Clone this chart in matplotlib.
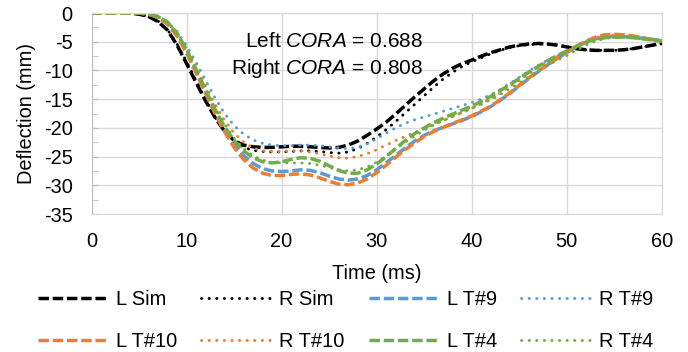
import numpy as np
import matplotlib
matplotlib.use("Agg")
import matplotlib.pyplot as plt
from matplotlib.ticker import MultipleLocator

plt.rcParams['font.family'] = ['Liberation Sans', 'DejaVu Sans']
plt.rcParams['mathtext.fontset'] = 'custom'
plt.rcParams['mathtext.it'] = 'Liberation Sans:italic'
plt.rcParams['mathtext.rm'] = 'Liberation Sans'
plt.rcParams['axes.unicode_minus'] = False

# time (ms), 1 ms steps
time_ms = np.arange(0, 61)

l_sim = [0, 0, 0, 0, 0, -0.2, -0.6, -1.5, -3.0, -5.6, -8.8, -12.1, -15.3, -18.2, -20.6, -22.2,
         -23.0, -23.3, -23.4, -23.4, -23.3, -23.2, -23.2, -23.3, -23.4, -23.5, -23.4, -23.0, -22.3, -21.3,
         -20.2, -19.0, -17.6, -16.1, -14.6, -13.2, -11.8, -10.6, -9.6, -8.8, -8.2, -7.5, -6.9, -6.4,
         -5.9, -5.6, -5.4, -5.3, -5.4, -5.6, -5.9, -6.2, -6.4, -6.5, -6.5, -6.5, -6.4, -6.2, -5.9, -5.6, -5.3]
r_sim = [0, 0, 0, 0, 0, -0.2, -0.6, -1.4, -2.9, -5.4, -8.5, -11.8, -15.1, -18.1, -20.7, -22.4,
         -23.4, -23.9, -24.1, -24.2, -24.2, -24.1, -24.0, -24.0, -24.1, -24.3, -24.4, -24.2, -23.6, -22.7,
         -21.6, -20.3, -18.9, -17.4, -15.9, -14.4, -12.9, -11.5, -10.3, -9.3, -8.5, -7.8, -7.1, -6.5,
         -6.0, -5.7, -5.5, -5.4, -5.4, -5.6, -5.9, -6.2, -6.4, -6.5, -6.5, -6.5, -6.4, -6.2, -5.9, -5.6, -5.3]
l_t9 = [0, 0, 0, 0, 0, 0, -0.2, -0.7, -1.8, -3.8, -6.8, -10.2, -13.8, -17.2, -20.3, -22.8,
        -24.8, -26.2, -27.1, -27.5, -27.6, -27.5, -27.3, -27.4, -27.8, -28.4, -28.9, -29.1, -28.9, -28.3,
        -27.3, -26.1, -24.8, -23.5, -22.3, -21.3, -20.5, -19.9, -19.3, -18.7, -18.0, -17.2, -16.3, -15.2,
        -14.0, -12.7, -11.4, -10.2, -9.0, -7.9, -6.9, -5.9, -5.1, -4.5, -4.2, -4.1, -4.1, -4.2, -4.4, -4.6, -4.8]
r_t9 = [0, 0, 0, 0, 0, 0, -0.2, -0.6, -1.5, -3.2, -5.7, -8.6, -11.7, -14.8, -17.5, -19.6,
        -21.1, -22.1, -22.7, -23.0, -23.1, -23.1, -23.0, -23.0, -23.1, -23.3, -23.5, -23.6, -23.4, -22.8,
        -21.9, -20.9, -20.0, -19.2, -18.6, -18.1, -17.6, -17.1, -16.6, -16.1, -15.6, -15.0, -14.2, -13.3,
        -12.3, -11.2, -10.1, -9.1, -8.2, -7.4, -6.7, -6.0, -5.3, -4.8, -4.4, -4.2, -4.2, -4.3, -4.5, -4.7, -4.9]
l_t10 = [0, 0, 0, 0, 0, 0, -0.2, -0.8, -2.0, -4.0, -7.0, -10.4, -14.0, -17.5, -20.7, -23.4,
         -25.5, -27.0, -27.9, -28.3, -28.3, -28.1, -28.0, -28.2, -28.7, -29.3, -29.8, -29.9, -29.6, -28.9,
         -27.8, -26.5, -25.1, -23.8, -22.6, -21.5, -20.6, -19.9, -19.2, -18.6, -17.9, -17.1, -16.2, -15.1,
         -13.9, -12.6, -11.3, -10.1, -9.0, -7.9, -6.8, -5.8, -4.9, -4.2, -3.8, -3.7, -3.8, -4.0, -4.3, -4.6, -4.9]
r_t10 = [0, 0, 0, 0, 0, 0, -0.2, -0.7, -1.7, -3.6, -6.3, -9.4, -12.7, -15.9, -18.7, -20.9,
         -22.5, -23.5, -24.0, -24.1, -24.1, -24.0, -24.0, -24.2, -24.5, -24.9, -25.2, -25.3, -25.0, -24.5,
         -23.8, -23.0, -22.2, -21.5, -20.8, -20.1, -19.4, -18.7, -18.0, -17.3, -16.6, -15.8, -14.9, -13.9,
         -12.8, -11.7, -10.6, -9.5, -8.5, -7.6, -6.7, -5.8, -5.0, -4.3, -3.9, -3.8, -3.9, -4.1, -4.4, -4.7, -5.0]
l_t4 = [0, 0, 0, 0, 0, 0, -0.2, -0.6, -1.6, -3.5, -6.4, -9.8, -13.4, -16.8, -19.8, -22.2,
        -24.0, -25.2, -25.9, -26.1, -25.9, -25.5, -25.2, -25.3, -25.8, -26.6, -27.4, -27.9, -27.9, -27.3,
        -26.3, -25.0, -23.6, -22.2, -21.0, -20.0, -19.1, -18.3, -17.6, -16.9, -16.2, -15.4, -14.5, -13.5,
        -12.5, -11.4, -10.3, -9.3, -8.3, -7.4, -6.6, -5.8, -5.1, -4.6, -4.3, -4.2, -4.2, -4.3, -4.5, -4.7, -4.9]
r_t4 = [0, 0, 0, 0, 0, 0, -0.2, -0.6, -1.6, -3.5, -6.4, -9.7, -13.2, -16.5, -19.4, -21.8,
        -23.6, -24.9, -25.6, -26.0, -26.1, -26.1, -26.1, -26.2, -26.5, -26.9, -27.3, -27.5, -27.3, -26.8,
        -26.0, -24.9, -23.7, -22.5, -21.4, -20.4, -19.5, -18.7, -18.0, -17.3, -16.6, -15.9, -15.1, -14.2,
        -13.2, -12.2, -11.1, -10.1, -9.1, -8.2, -7.4, -6.5, -5.6, -4.9, -4.4, -4.2, -4.2, -4.3, -4.5, -4.7, -4.9]

series_labels = ['L Sim', 'R Sim', 'L T#9', 'R T#9', 'L T#10', 'R T#10', 'L T#4', 'R T#4']
series_values = [l_sim, r_sim, l_t9, r_t9, l_t10, r_t10, l_t4, r_t4]
series_colors = ['black', 'black', '#5B9BD5', '#5B9BD5', '#ED7D31', '#ED7D31', '#70AD47', '#70AD47']

FS = 14.4

fig = plt.figure(figsize=(6.88, 3.52), dpi=100)
ax = fig.add_axes([0.133, 0.392, 0.829, 0.571])

lines = []
for i, (lab, vals, col) in enumerate(zip(series_labels, series_values, series_colors)):
    if i % 2 == 0:
        ln, = ax.plot(time_ms, vals, color=col, lw=2.5, dashes=(3.0, 1.1), label=lab)
    else:
        ln, = ax.plot(time_ms, vals, color=col, lw=2.1, dashes=(0.1, 2.5),
                      dash_capstyle='round', label=lab)
    lines.append(ln)

ax.set_xlim(0, 60)
ax.set_ylim(-35, 0)
ax.xaxis.set_major_locator(MultipleLocator(10))
ax.yaxis.set_major_locator(MultipleLocator(5))
ax.yaxis.set_minor_locator(MultipleLocator(2.5))
ax.grid(True, color='#D9D9D9', lw=1)
ax.set_axisbelow(True)
for s in ax.spines.values():
    s.set_color('#D9D9D9')
ax.spines['left'].set_color('#BFBFBF')
ax.tick_params(axis='y', which='both', direction='in', length=4, color='#BFBFBF',
               labelsize=FS, pad=13.5)
ax.tick_params(axis='x', length=0, labelsize=FS, pad=13)
ax.set_xlabel('Time (ms)', fontsize=FS, labelpad=9)
ax.set_ylabel('Deflection (mm)', fontsize=FS, labelpad=6)

ax.text(34.9, -4.9, r'Left $\mathit{CORA}$ = 0.688', fontsize=15, ha='right', va='center')
ax.text(34.9, -9.7, r'Right $\mathit{CORA}$ = 0.808', fontsize=15, ha='right', va='center')

# legend fills columns first, so reorder to read row by row
order = [0, 4, 1, 5, 2, 6, 3, 7]
fig.legend([lines[k] for k in order], [series_labels[k] for k in order],
           loc='upper left', bbox_to_anchor=(0.0552, 0.176), borderaxespad=0, borderpad=0,
           ncol=4, frameon=False, fontsize=FS, handlelength=3.55, handletextpad=0.35,
           columnspacing=1.2, labelspacing=1.16)

fig.savefig('out.png', dpi=100)
